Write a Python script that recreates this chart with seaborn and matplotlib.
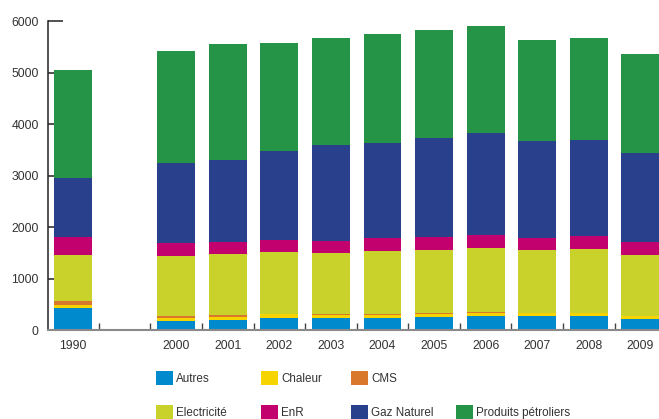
import matplotlib
matplotlib.use("Agg")
import matplotlib.pyplot as plt
import numpy as np
import pandas as pd
import seaborn as sns
from matplotlib.patches import Patch
from matplotlib.ticker import FixedLocator

# Consommation par source d'énergie (empilée)
years = ["1990", "2000", "2001", "2002", "2003", "2004", "2005",
         "2006", "2007", "2008", "2009"]
autres = [428, 175, 194, 233, 233, 233, 253, 272, 272, 272, 214]
chaleur = [58, 58, 59, 85, 59, 59, 58, 58, 58, 58, 58]
cms = [78, 45, 45, 0, 19, 19, 19, 20, 0, 0, 0]
electricite = [894, 1161, 1179, 1198, 1186, 1225, 1225, 1244, 1225, 1245, 1186]
enr = [344, 252, 240, 240, 233, 259, 246, 246, 233, 259, 259]
gaz_naturel = [1153, 1556, 1588, 1724, 1866, 1840, 1932, 1990, 1886, 1860, 1724]
produits_petroliers = [2100, 2177, 2255, 2099, 2080, 2119, 2099, 2080, 1964, 1982, 1924]

series = ["Autres", "Chaleur", "CMS", "Electricité", "EnR",
          "Gaz Naturel", "Produits pétroliers"]
colors = ["#008ACE", "#F5D400", "#D9782D", "#C9D22A", "#C2006E",
          "#29418C", "#259447"]

sns.set_style("ticks")
plt.rcParams["font.family"] = ["Liberation Sans", "DejaVu Sans"]

df = pd.DataFrame({
    "annee": years,
    "Autres": autres,
    "Chaleur": chaleur,
    "CMS": cms,
    "Electricité": electricite,
    "EnR": enr,
    "Gaz Naturel": gaz_naturel,
    "Produits pétroliers": produits_petroliers,
})
cum = df[series].cumsum(axis=1)

# an empty slot separates 1990 from the 2000s
order = ["1990", " "] + years[1:]

fig = plt.figure(figsize=(6.59, 4.19), dpi=100)
ax = fig.add_axes([0.0724, 0.2124, 0.9276, 0.7368])

# draw cumulative totals from the top layer down so each layer shows its share
for name, col in reversed(list(zip(series, colors))):
    sns.barplot(x=df["annee"], y=cum[name], order=order, color=col,
                saturation=1, width=0.736, linewidth=0, errorbar=None, ax=ax)

ax.set_xlabel("")
ax.set_ylabel("")
ax.set_xlim(-0.49, 11.36)
ax.set_ylim(0, 6000)
ax.set_yticks(np.arange(0, 6001, 1000))
ax.set_axisbelow(True)

for s in ("top", "right"):
    ax.spines[s].set_visible(False)
ax.spines["left"].set_color("#222222")
ax.spines["left"].set_linewidth(1.1)
ax.spines["bottom"].set_color("#8a8a8a")
ax.spines["bottom"].set_linewidth(1.5)

text_color = "#333333"
ax.tick_params(axis="y", direction="in", length=10.8, width=1.1,
               color="#222222", pad=6.5, labelsize=8.8, labelcolor=text_color)
ax.tick_params(axis="x", which="major", length=0, pad=7.0,
               labelsize=8.8, labelcolor=text_color)
ax.xaxis.set_minor_locator(FixedLocator(np.arange(0.5, 11, 1.0)))
ax.tick_params(axis="x", which="minor", direction="in", length=5,
               width=1.0, color="#444444")

# legend laid out as two rows, columns placed at fixed positions
handles = {n: Patch(facecolor=c, edgecolor="none") for n, c in zip(series, colors)}
blank = Patch(facecolor="none", edgecolor="none")
columns = [
    (156, [(handles["Autres"], "Autres"), (handles["Electricité"], "Electricité")]),
    (261, [(handles["Chaleur"], "Chaleur"), (handles["EnR"], "EnR")]),
    (351, [(handles["CMS"], "CMS"), (handles["Gaz Naturel"], "Gaz Naturel")]),
    (456, [(blank, ""), (handles["Produits pétroliers"], "Produits pétroliers")]),
]
W, H = 659, 419
for xpix, entries in columns:
    leg = fig.legend([e[0] for e in entries], [e[1] for e in entries],
                     loc="upper left", bbox_to_anchor=(xpix / W, (H - 371) / H),
                     ncol=1, frameon=False, borderpad=0, borderaxespad=0,
                     handlelength=1.46, handleheight=1.46, handletextpad=0.25,
                     labelspacing=1.72, fontsize=8.4, labelcolor=text_color)

fig.savefig("out.png", dpi=100)
